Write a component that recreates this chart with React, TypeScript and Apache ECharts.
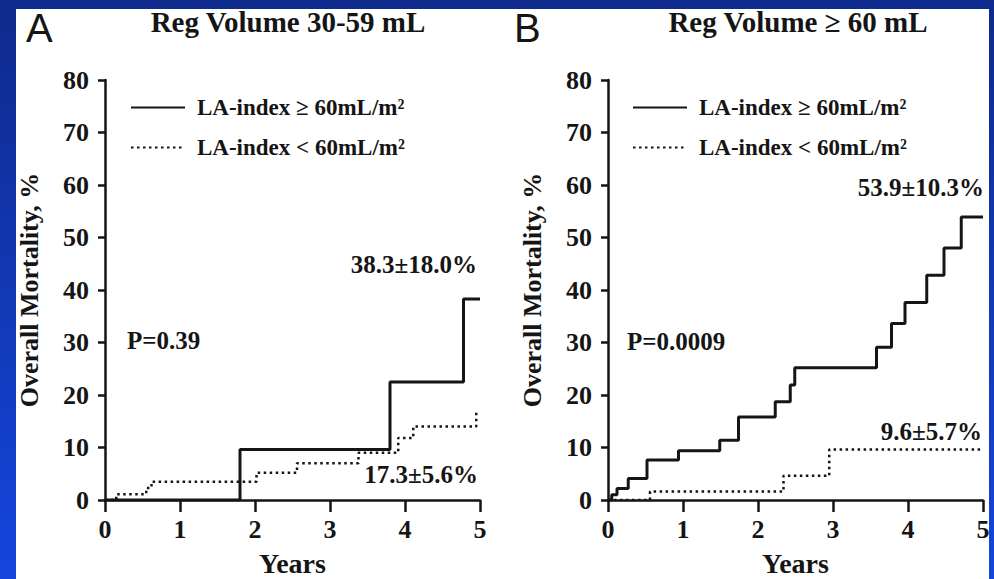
import React, { useEffect, useRef } from "react";
import * as echarts from "echarts";

// Panel A: Reg Volume 30-59 mL
const timeA_hi = [0, 1.8, 3.8, 4.78, 5];
const mortA_hi = [0, 9.6, 22.5, 38.3, 38.3];
const timeA_lo = [0, 0.15, 0.55, 0.62, 2.02, 2.56, 3.38, 3.91, 4.11, 4.95];
const mortA_lo = [0, 1.1, 2.3, 3.5, 5.2, 7.0, 9.0, 11.8, 14.0, 17.3];

// Panel B: Reg Volume >= 60 mL
const timeB_hi = [0, 0.05, 0.12, 0.27, 0.52, 0.94, 1.49, 1.74, 2.23, 2.43, 2.49, 3.58, 3.78, 3.96, 4.25, 4.48, 4.71, 5];
const mortB_hi = [0, 1.0, 2.2, 4.1, 7.6, 9.4, 11.4, 15.8, 18.7, 21.9, 25.2, 29.1, 33.6, 37.6, 42.8, 48.0, 53.9, 53.9];
const timeB_lo = [0, 0.56, 2.34, 2.95, 5];
const mortB_lo = [0, 1.6, 4.6, 9.6, 9.6];

const seriesNames = ["LA-index ≥ 60mL/m²", "LA-index < 60mL/m²"];
const panelTitles = ["Reg Volume 30-59 mL", "Reg Volume ≥ 60 mL"];
const panelLetters = ["A", "B"];
const pValues = ["P=0.39", "P=0.0009"];
const hiLabels = ["38.3±18.0%", "53.9±10.3%"];
const loLabels = ["17.3±5.6%", "9.6±5.7%"];
const yAxisName = "Overall Mortality, %";
const xAxisName = "Years";

const SERIF = '"Liberation Serif", "Times New Roman", serif';
const INK = "#151515";

const zip = (t: number[], v: number[]) => t.map((x, i) => [x, v[i]]);

export default function App() {
  const ref = useRef<HTMLDivElement>(null);
  useEffect(() => {
    if (!ref.current) return;
    const chart = echarts.init(ref.current, null, { renderer: "svg" });
    const grids = [
      { left: 105, top: 80, width: 375, height: 420, containLabel: false, outerBoundsMode: "none" },
      { left: 608, top: 80, width: 375, height: 420, containLabel: false, outerBoundsMode: "none" },
    ];
    const xAxis = grids.map((_, i) => ({
      type: "value",
      gridIndex: i,
      min: 0,
      max: 5,
      interval: 1,
      name: xAxisName,
      nameLocation: "middle",
      nameGap: 49,
      nameTextStyle: { fontFamily: SERIF, fontWeight: "bold", fontSize: 28, color: INK },
      axisLine: { show: true, lineStyle: { color: INK, width: 2.5 } },
      axisTick: { show: true, inside: false, length: 12, lineStyle: { color: INK, width: 2.5 } },
      axisLabel: { margin: 16, fontFamily: SERIF, fontWeight: "bold", fontSize: 26, color: INK },
      splitLine: { show: false },
    }));
    const yAxis = grids.map((_, i) => ({
      type: "value",
      gridIndex: i,
      min: 0,
      max: 80,
      interval: 10,
      name: yAxisName,
      nameLocation: "middle",
      nameGap: 63,
      nameTextStyle: { fontFamily: SERIF, fontWeight: "bold", fontSize: 26, color: INK },
      axisLine: { show: true, lineStyle: { color: INK, width: 2.5 } },
      axisTick: { show: true, inside: false, length: 7, lineStyle: { color: INK, width: 2.5 } },
      axisLabel: { margin: 16, fontFamily: SERIF, fontWeight: "bold", fontSize: 26, color: INK },
      splitLine: { show: false },
    }));
    const solid = { color: INK, width: 3, type: "solid" };
    const dotted = { color: INK, width: 2.5, type: [2.5, 3.5] };
    const mk = (name: string, i: number, data: number[][], ls: any) => ({
      type: "line",
      name,
      xAxisIndex: i,
      yAxisIndex: i,
      step: "end",
      symbol: "none",
      data,
      lineStyle: ls,
      itemStyle: { color: INK },
      z: ls === solid ? 4 : 3,
    });
    const series = [
      mk(seriesNames[0], 0, zip(timeA_hi, mortA_hi), solid),
      mk(seriesNames[1], 0, zip(timeA_lo, mortA_lo), dotted),
      mk(seriesNames[0], 1, zip(timeB_hi, mortB_hi), solid),
      mk(seriesNames[1], 1, zip(timeB_lo, mortB_lo), dotted),
    ];
    const legend = [125, 627].map((left) => ({
      orient: "vertical",
      left,
      top: 91,
      itemWidth: 54,
      itemHeight: 14,
      itemGap: 17,
      selectedMode: false,
      data: seriesNames,
      itemStyle: { opacity: 0 },
      textStyle: { fontFamily: SERIF, fontWeight: "bold", fontSize: 23, color: INK, padding: [0, 0, 0, 7] },
    }));
    const txt = (text: string, x: number, y: number, font: string, align = "left") => ({
      type: "text",
      x,
      y,
      style: { text, font, fill: INK, align, verticalAlign: "middle" },
    });
    const annFont = `bold 25px ${SERIF}`;
    const titleFont = `bold 29px ${SERIF}`;
    const letterFont = '40px "Liberation Sans", Arial, sans-serif';
    const graphic = [
      txt(panelLetters[0], 26, 28, letterFont),
      txt(panelLetters[1], 514, 28, letterFont),
      txt(panelTitles[0], 288, 22, titleFont, "center"),
      txt(panelTitles[1], 798, 22, titleFont, "center"),
      txt(pValues[0], 127, 340, annFont),
      txt(pValues[1], 627, 341, annFont),
      txt(hiLabels[0], 477, 264, annFont, "right"),
      txt(loLabels[0], 478, 474, annFont, "right"),
      txt(hiLabels[1], 984, 187, annFont, "right"),
      txt(loLabels[1], 982, 431, annFont, "right"),
    ];
    chart.setOption({
      animation: false,
      backgroundColor: "transparent",
      grid: grids,
      xAxis,
      yAxis,
      series,
      legend,
      graphic,
    } as any);
    return () => chart.dispose();
  }, []);
  return (
    <div
      style={{
        position: "fixed",
        left: 0,
        top: 0,
        width: 994,
        height: 579,
        background: "linear-gradient(180deg, #0e2a8c 0%, #1238b4 50%, #1545de 100%)",
      }}
    >
      <div style={{ position: "absolute", left: 16, top: 9, width: 973, height: 570, background: "#ffffff" }} />
      <div ref={ref} style={{ position: "absolute", left: 0, top: 0, width: 994, height: 579 }} />
    </div>
  );
}
